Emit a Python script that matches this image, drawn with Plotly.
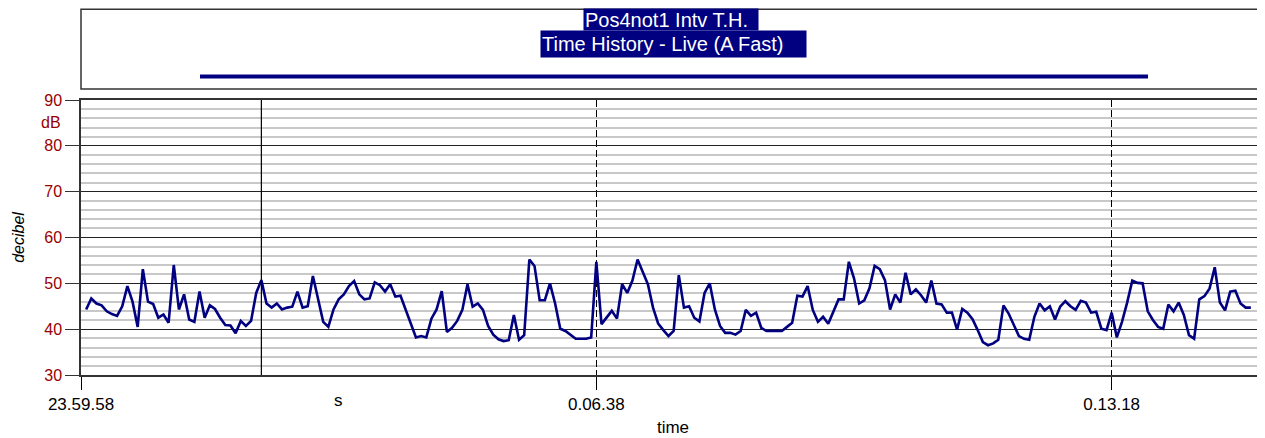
import plotly.graph_objects as go

# ---- data (seconds after 23:59:58, sound level in dB) ----
sample_interval_s = 4
start_offset_s = 4
levels_db = [
    44.3, 46.7, 45.6, 45.2, 43.9, 43.3, 42.9, 45.0, 49.4, 46.0, 40.5, 53.1, 46.0, 45.5, 42.5, 43.2, 41.4, 54.0, 44.3, 47.6,
    42.1, 41.6, 48.2, 42.5, 45.2, 44.4, 42.5, 40.9, 40.8, 39.1, 41.8, 40.7, 41.8, 47.9, 50.7, 45.6, 44.7, 45.6,
    44.3, 44.7, 44.9, 48.2, 44.7, 45.0, 51.6, 46.3, 41.6, 40.5, 44.3, 46.5, 47.6, 49.4, 50.5, 47.6, 46.5, 46.7, 50.2, 49.6,
    48.2, 49.8, 47.1, 47.3, 44.2, 41.2, 38.2, 38.5, 38.2, 42.3, 44.3, 48.3, 39.4, 40.3, 41.8, 44.2, 49.8,
    44.9, 45.6, 44.2, 40.7, 38.8, 37.8, 37.4, 37.6, 43.1, 37.7, 38.7, 55.2, 53.8, 46.3, 46.3, 50.0, 45.6, 40.1, 39.6, 38.7,
    37.9, 37.9, 37.9, 38.2, 54.7, 41.1, 42.5, 44.0, 42.3, 49.8, 47.9, 50.6, 55.2, 52.7, 49.8, 44.7, 41.2,
    39.8, 38.5, 39.6, 51.8, 44.7, 45.0, 42.5, 41.7, 47.9, 50.0, 44.3, 40.7, 39.2, 39.2, 38.8, 39.6, 44.2, 42.9, 43.6, 40.3,
    39.6, 39.6, 39.6, 39.6, 40.5, 41.4, 47.3, 47.1, 49.4, 44.2, 41.6, 42.7, 41.2, 44.0, 46.5, 46.5, 54.7,
    51.1, 45.6, 46.3, 48.9, 53.8, 53.1, 50.7, 44.3, 47.6, 45.8, 52.3, 47.6, 48.7, 47.4, 45.8, 50.6, 45.6, 45.4, 43.6, 43.6,
    39.9, 44.4, 43.6, 42.2, 39.8, 37.2, 36.5, 36.9, 37.7, 45.2, 43.4, 40.9, 38.5, 37.9, 37.7, 42.7, 45.6,
    44.1, 45.0, 42.1, 44.9, 46.1, 45.0, 44.2, 46.2, 45.8, 43.6, 43.8, 40.1, 39.8, 43.6, 38.2, 41.6, 45.8, 50.6, 50.1, 50.0,
    43.9, 42.0, 40.5, 40.1, 45.4, 43.9, 45.8, 43.1, 38.7, 37.9, 46.5, 47.2, 48.9, 53.5, 45.8, 44.1, 48.2, 48.4, 45.6, 44.7, 44.7,
]
times_s = [start_offset_s + i * sample_interval_s for i in range(len(levels_db))]

x_tick_values = [0, 400, 800]
x_tick_labels = ["23.59.58", "0.06.38", "0.13.18"]
x_range = [0, 919]
y_range = [30, 90]
marker_time_s = 140
unit_x_pos_s = 200

title_line1 = "Pos4not1 Intv T.H."
title_line2 = "Time History - Live (A Fast)"

NAVY = "#000080"
RED = "#990000"
SANS = "Liberation Sans, Arial, sans-serif"

fig = go.Figure()
fig.add_trace(go.Scatter(
    x=times_s, y=levels_db, mode="lines",
    line=dict(color=NAVY, width=2.6), showlegend=False, hoverinfo="skip",
))

# the page body has an 8px margin, so the figure is sized/offset to compensate
fig.update_layout(
    width=1257, height=430,
    margin=dict(l=73, r=0, t=92, b=63, autoexpand=False),
    paper_bgcolor="white", plot_bgcolor="white",
    showlegend=False,
)

fig.update_xaxes(
    automargin=False,
    range=x_range,
    tickmode="array", tickvals=x_tick_values, ticktext=x_tick_labels,
    ticks="outside", ticklen=13, tickcolor="black", tickwidth=1.2,
    tickfont=dict(family=SANS, size=17, color="black"),
    showgrid=True, gridcolor="black", gridwidth=1, griddash="7px,3px",
    showline=True, linecolor="#333333", linewidth=2, mirror=True,
    zeroline=False,
    title=dict(text="time", font=dict(family=SANS, size=17, color="black"), standoff=8),
)

fig.update_yaxes(
    automargin=False,
    range=y_range, dtick=10, tick0=30,
    ticks="outside", ticklen=14, tickcolor="#333333", tickwidth=1.2,
    tickfont=dict(family=SANS, size=16, color=RED),
    showgrid=True, gridcolor="#222222", gridwidth=1,
    minor=dict(dtick=2, showgrid=True, gridcolor="#c8c8c8", gridwidth=1.5, ticks=""),
    showline=True, linecolor="#333333", linewidth=1.5,
    zeroline=False,
    title=dict(text="<i>decibel</i>", font=dict(family=SANS, size=16, color="black"), standoff=16),
)

# marker line
fig.add_vline(x=marker_time_s, line=dict(color="black", width=1.2))

# unit labels
fig.add_annotation(x=unit_x_pos_s, xref="x", y=-0.091, yref="paper", text="s",
                   showarrow=False, font=dict(family=SANS, size=17, color="black"),
                   xanchor="center", yanchor="middle")
fig.add_annotation(x=-0.0148, xref="paper", y=85, yref="y", text="dB",
                   showarrow=False, font=dict(family=SANS, size=16, color=RED),
                   xanchor="right", yanchor="middle")

# title box
fig.add_shape(type="rect", xref="paper", yref="paper", x0=0, x1=1.05, y0=1.04, y1=1.3300,
              line=dict(color="#333333", width=1.5), fillcolor="rgba(0,0,0,0)", layer="above")
# legend swatch line
fig.add_shape(type="line", xref="paper", yref="paper", x0=0.1005, x1=0.9012, y0=1.0855, y1=1.0855,
              line=dict(color=NAVY, width=4))

fig.add_annotation(x=0.4983, xref="paper", y=1.292, yref="paper", text=title_line1,
                   showarrow=False, bgcolor=NAVY, font=dict(family=SANS, size=20, color="white"),
                   width=172, height=19, align="left", xanchor="center", yanchor="middle", borderpad=1)
fig.add_annotation(x=0.5004, xref="paper", y=1.204, yref="paper", text=title_line2,
                   showarrow=False, bgcolor=NAVY, font=dict(family=SANS, size=20, color="white"),
                   width=263, height=24, align="left", xanchor="center", yanchor="middle", borderpad=1)

fig.write_html("out.html")
